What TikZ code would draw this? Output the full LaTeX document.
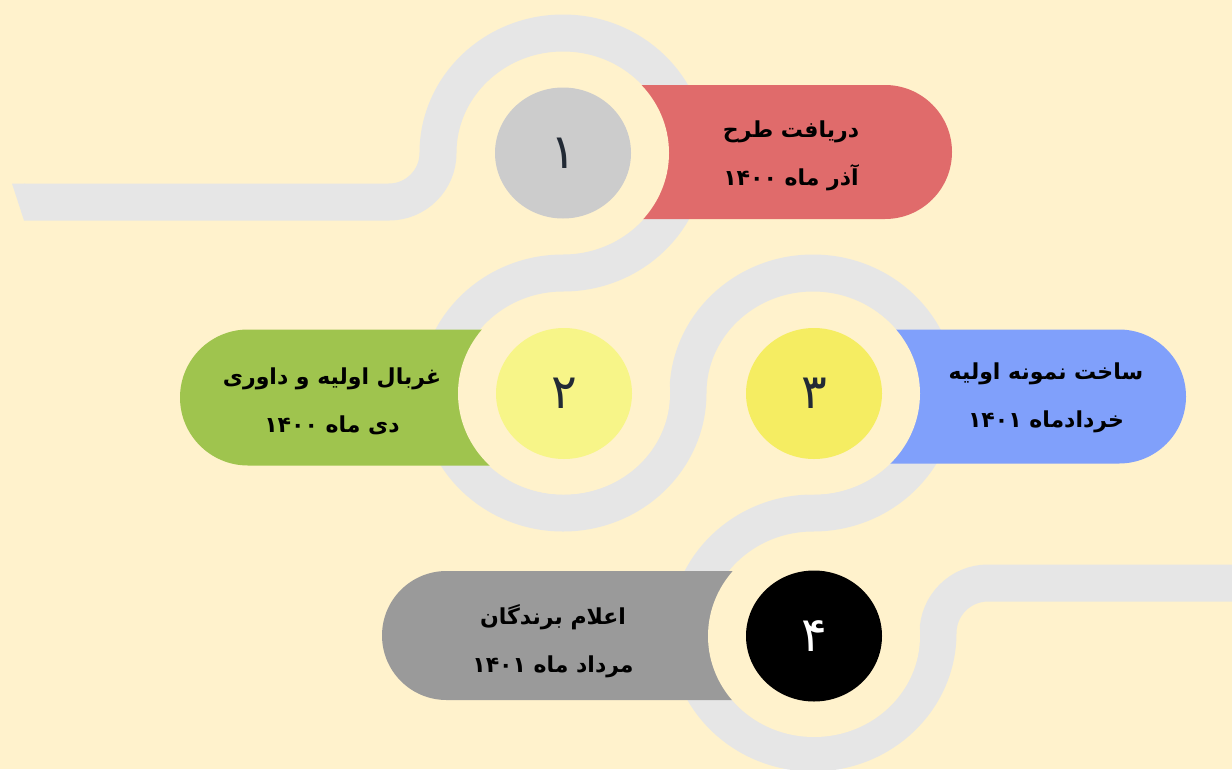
\documentclass[tikz,border=0pt]{standalone}
\usepackage{fontspec}
\usetikzlibrary{positioning, shapes.geometric, shapes.misc}
\TeXXeTstate=1
\newfontfamily\farsi[Script=Arabic]{DejaVu Sans}
\definecolor{cream}{HTML}{FFF2CC}
\definecolor{roadgray}{HTML}{E6E6E6}
\definecolor{navy}{HTML}{222A35}
\definecolor{dotgray}{HTML}{CCCCCC}
\definecolor{dotlemon}{HTML}{F7F588}
\definecolor{dotyellow}{HTML}{F5ED62}
\definecolor{pillred}{HTML}{E06B6B}
\definecolor{pillgreen}{HTML}{9FC44E}
\definecolor{pillblue}{HTML}{80A0FB}
\definecolor{pillgray}{HTML}{9A9A9A}

\begin{document}
\begin{tikzpicture}[x=1pt, y=-1pt,
            road/.style={draw=roadgray, line width=37pt},
            halo/.style={
                ellipse,
                fill=cream,
                minimum width=212pt,
                minimum height=202pt,
                inner sep=0pt
            },
            numdot/.style={
                ellipse,
                minimum width=136pt,
                minimum height=131pt,
                inner sep=0pt,
                text=navy,
                font=\farsi\fontsize{48}{48}\selectfont
            },
            pill/.style={
                rounded rectangle,
                minimum height=134pt,
                inner sep=0pt
            },
            caption/.style={
                align=center,
                font=\farsi\bfseries\fontsize{22}{48}\selectfont
            }
        ]

        % Background
        \useasboundingbox[fill=cream] (0,0) rectangle (1232,769);

        % Road
        \fill[roadgray] (12,183.5) -- (25,183.5) -- (24,220.5) -- cycle;
        \draw[road] (24,202) -- (389,202)
            arc[start angle=90, end angle=0, radius=49]
            arc[start angle=180, end angle=450, x radius=125, y radius=120]
            arc[start angle=270, end angle=0, x radius=125, y radius=120]
            arc[start angle=180, end angle=450, x radius=125, y radius=120]
            arc[start angle=270, end angle=0, x radius=125, y radius=120]
            arc[start angle=180, end angle=270, radius=50]
            -- (1240,583);

        % Pills
        \node[pill, fill=pillred, rounded rectangle west arc=none, minimum width=322pt] (Pill1) at (791,152) {};
        \node[pill, fill=pillgreen, rounded rectangle east arc=none, minimum width=320pt, minimum height=136pt] (Pill2) at (340,397.5) {};
        \node[pill, fill=pillblue, rounded rectangle west arc=none, minimum width=306pt] (Pill3) at (1033,396.5) {};
        \node[pill, fill=pillgray, rounded rectangle east arc=none, minimum width=363pt, minimum height=129pt] (Pill4) at (563.5,635.5) {};

        % Halos
        \node[halo] (Halo1) at (563,153) {};
        \node[halo] (Halo2) at (564,393.5) {};
        \node[halo] (Halo3) at (814,393.5) {};
        \node[halo] (Halo4) at (814,636) {};

        % Steps
        \node[numdot, fill=dotgray] (Step1) at (Halo1) {۱};
        \node[numdot, fill=dotlemon] (Step2) at (Halo2) {۲};
        \node[numdot, fill=dotyellow] (Step3) at (Halo3) {۳};
        \node[numdot, fill=black, text=white] (Step4) at (Halo4) {۴};

        % Captions
        \node[caption] (Text1) at (791,156) {\beginR دریافت طرح\endR\\\beginR آذر ماه ۱۴۰۰\endR};
        \node[caption] (Text2) at (332,401) {\beginR غربال اولیه و داوری\endR\\\beginR دی ماه ۱۴۰۰\endR};
        \node[caption] (Text3) at (1046,397.5) {\beginR ساخت نمونه اولیه\endR\\\beginR خردادماه ۱۴۰۱\endR};
        \node[caption] (Text4) at (553,641) {\beginR اعلام برندگان\endR\\\beginR مرداد ماه ۱۴۰۱\endR};

        \end{tikzpicture}
\end{document}
